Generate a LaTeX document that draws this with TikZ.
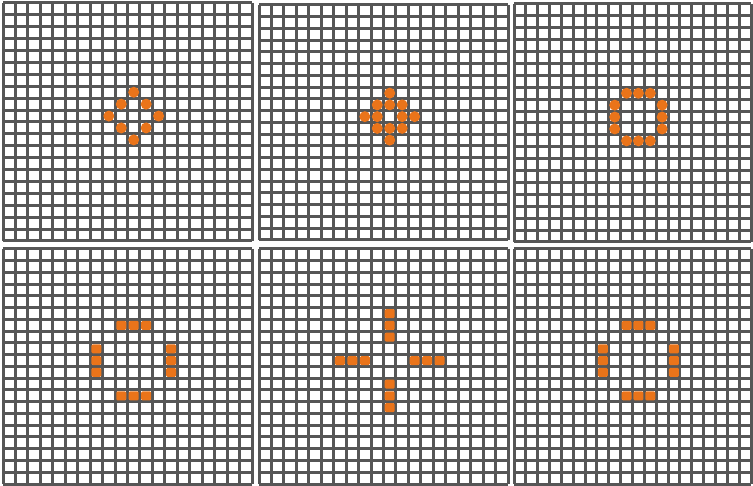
\documentclass[tikz,border=0pt]{standalone}
\definecolor{gridc}{RGB}{86,86,86}
\definecolor{dotc}{RGB}{234,116,26}
\tikzset{
  gridline/.style={draw=gridc, line width=3.0pt},
  rounddot/.style={fill=dotc},
  bardot/.style={fill=dotc, rounded corners=1.2pt},
}
\newcommand{\gridpanel}[4]{%
  \foreach \i in {0,...,20}{
    \draw[gridline] ({#1+\i*#3/20},#2) -- ({#1+\i*#3/20},{#2+#4});
    \draw[gridline] (#1,{#2+\i*#4/20}) -- ({#1+#3},{#2+\i*#4/20});
  }}
\newcommand{\roundcells}[5]{%
  \foreach \c/\r in {#5}{
    \fill[rounddot] ({#1+(\c+0.5)*#3/20},{#2+(\r+0.5)*#4/20}) circle (5.5pt);
  }}
\newcommand{\barcells}[5]{%
  \foreach \c/\r in {#5}{
    \fill[bardot] ({#1+(\c+0.5)*#3/20-5},{#2+(\r+0.5)*#4/20-4.4}) rectangle ++(10,8.8);
  }}
\begin{document}
\begin{tikzpicture}[x=1pt,y=-1pt]
\useasboundingbox[fill=white] (0,0) rectangle (753,486);
% top row
\gridpanel{3}{3}{249}{238}
\gridpanel{259}{5}{249}{235}
\gridpanel{514}{4}{237}{238}
% bottom row
\gridpanel{3}{249}{249}{235}
\gridpanel{259}{249}{249}{235}
\gridpanel{514}{249}{237}{235}
% orange cells
\roundcells{3}{3}{249}{238}{10/7,9/8,11/8,8/9,12/9,9/10,11/10,10/11}
\roundcells{259}{5}{249}{235}{10/7,9/8,10/8,11/8,8/9,9/9,11/9,12/9,9/10,10/10,11/10,10/11}
\roundcells{514}{4}{237}{238}{9/7,10/7,11/7,8/8,12/8,8/9,12/9,8/10,12/10,9/11,10/11,11/11}
\barcells{3}{249}{249}{235}{9/6,10/6,11/6,7/8,7/9,7/10,13/8,13/9,13/10,9/12,10/12,11/12}
\barcells{259}{249}{249}{235}{10/5,10/6,10/7,10/11,10/12,10/13,6/9,7/9,8/9,12/9,13/9,14/9}
\barcells{514}{249}{237}{235}{9/6,10/6,11/6,7/8,7/9,7/10,13/8,13/9,13/10,9/12,10/12,11/12}
\end{tikzpicture}
\end{document}
